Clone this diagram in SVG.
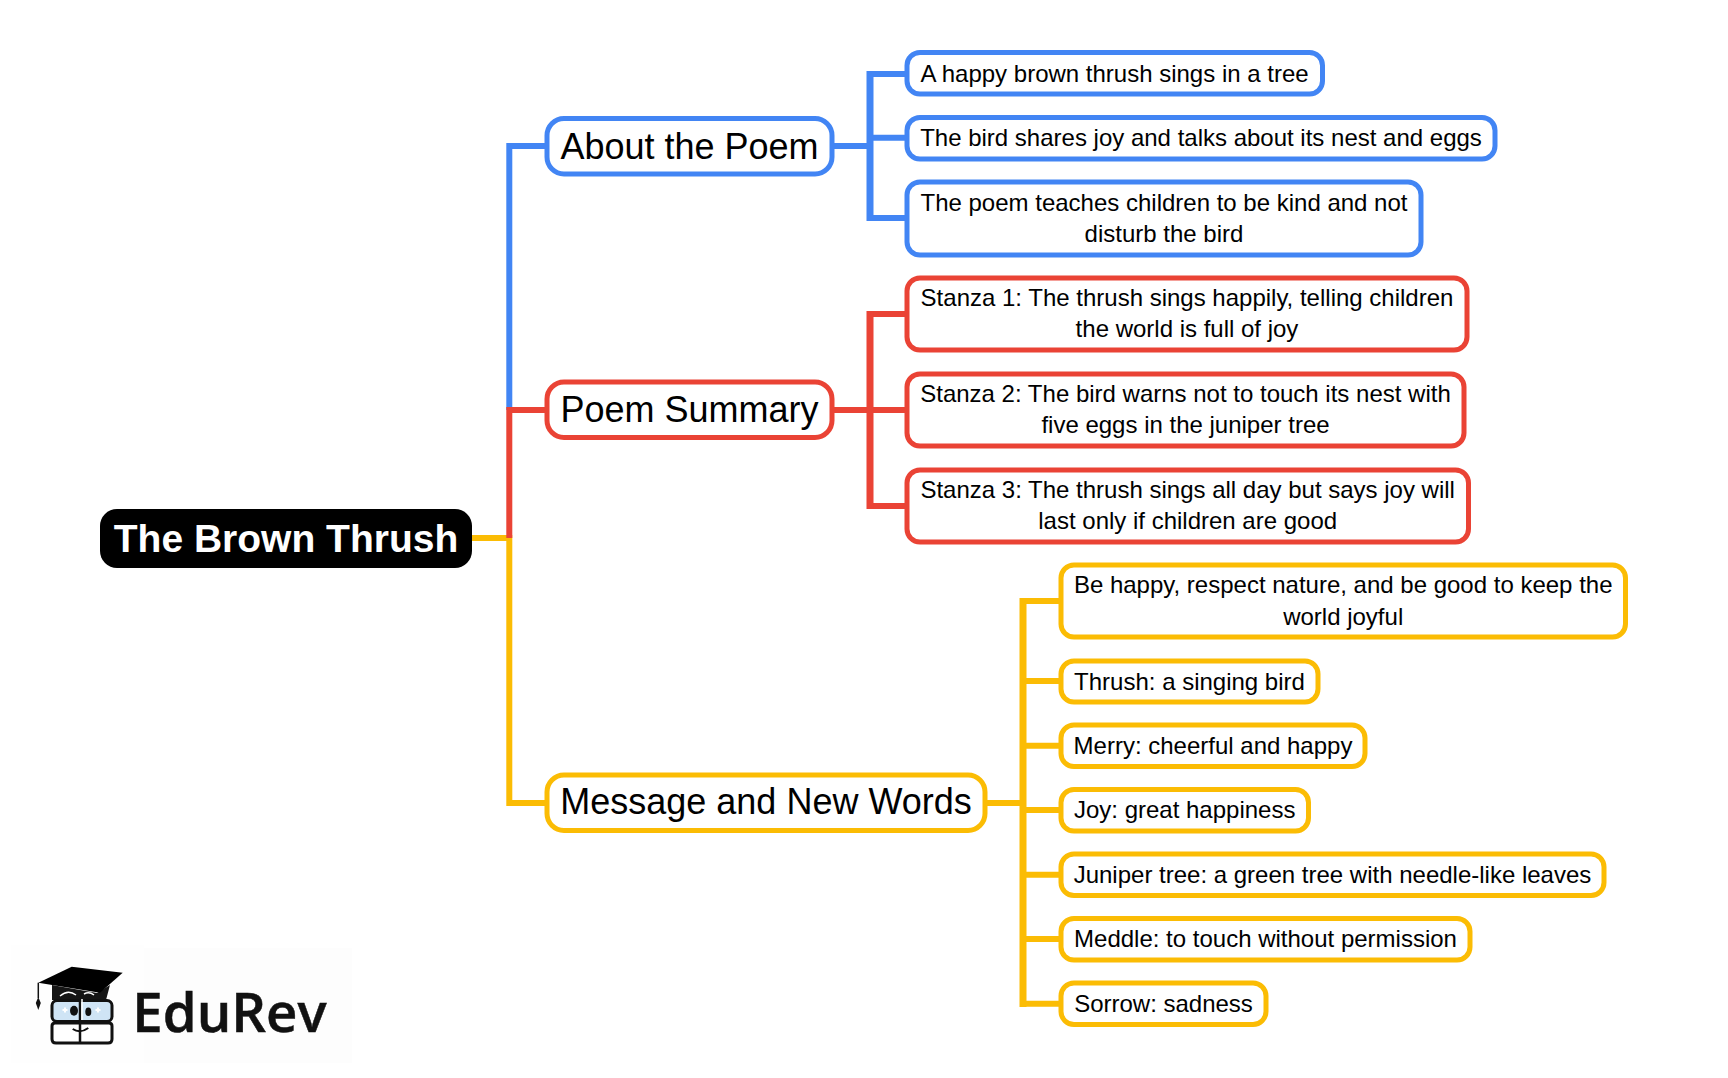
<svg xmlns="http://www.w3.org/2000/svg" width="1728" height="1078" viewBox="0 0 1728 1078">
<style>
text{font-family:"Liberation Sans",Arial,sans-serif;fill:#000;text-anchor:middle}
.c{font-size:24px}.m{font-size:36px}
.n{fill:#fff;stroke-width:5}
.b{stroke:#4285f4}.r{stroke:#ea4335}.y{stroke:#fbbc04}
#connectors path{fill:none;stroke-width:6}
#connectors path.v{stroke-width:7}
</style>
<rect width="1728" height="1078" fill="#fff"/>
<g id="logo-bg"><rect x="11" y="945" width="133" height="118" fill="#fefefe"/><rect x="144" y="948" width="208" height="115" fill="#fdfdfd"/></g>
<g id="root"><rect x="100" y="509" width="372" height="59" rx="17" fill="#000"/><text x="286" y="552" font-size="39" font-weight="700" style="fill:#fff">The Brown Thrush</text></g>
<g id="about"><rect class="n b" x="547" y="118.500" width="285" height="55.500" rx="17"/><text class="m" x="689.500" y="159">About the Poem</text></g>
<g id="summary"><rect class="n r" x="547" y="382" width="285" height="55.500" rx="17"/><text class="m" x="689.500" y="421.500">Poem Summary</text></g>
<g id="message"><rect class="n y" x="547" y="775" width="438" height="55.500" rx="17"/><text class="m" x="766" y="814">Message and New Words</text></g>
<g id="b1"><rect class="n b" x="907" y="52.500" width="415.500" height="41.500" rx="13"/><text class="c" x="1114.500" y="81.500">A happy brown thrush sings in a tree</text></g>
<g id="b2"><rect class="n b" x="907" y="117.500" width="588" height="41.500" rx="13"/><text class="c" x="1201" y="146">The bird shares joy and talks about its nest and eggs</text></g>
<g id="b3"><rect class="n b" x="907" y="182" width="514" height="73" rx="13"/><text class="c" x="1164" y="211">The poem teaches children to be kind and not</text><text class="c" x="1164" y="242">disturb the bird</text></g>
<g id="r1"><rect class="n r" x="907" y="278" width="560" height="72" rx="13"/><text class="c" x="1187" y="306">Stanza 1: The thrush sings happily, telling children</text><text class="c" x="1187" y="337">the world is full of joy</text></g>
<g id="r2"><rect class="n r" x="907" y="374" width="557" height="72" rx="13"/><text class="c" x="1185.500" y="402">Stanza 2: The bird warns not to touch its nest with</text><text class="c" x="1185.500" y="433">five eggs in the juniper tree</text></g>
<g id="r3"><rect class="n r" x="907" y="470" width="561.500" height="72" rx="13"/><text class="c" x="1187.700" y="498">Stanza 3: The thrush sings all day but says joy will</text><text class="c" x="1187.700" y="529">last only if children are good</text></g>
<g id="y1"><rect class="n y" x="1061" y="565" width="564.500" height="72" rx="13"/><text class="c" x="1343.200" y="593">Be happy, respect nature, and be good to keep the</text><text class="c" x="1343.200" y="624.500">world joyful</text></g>
<g id="y2"><rect class="n y" x="1061" y="661" width="257" height="41" rx="13"/><text class="c" x="1189.500" y="689.500">Thrush: a singing bird</text></g>
<g id="y3"><rect class="n y" x="1061" y="725" width="304" height="41.500" rx="13"/><text class="c" x="1213" y="754">Merry: cheerful and happy</text></g>
<g id="y4"><rect class="n y" x="1061" y="789.500" width="247.500" height="41.500" rx="13"/><text class="c" x="1184.700" y="818">Joy: great happiness</text></g>
<g id="y5"><rect class="n y" x="1061" y="854" width="543" height="41.500" rx="13"/><text class="c" x="1332.500" y="882.500">Juniper tree: a green tree with needle-like leaves</text></g>
<g id="y6"><rect class="n y" x="1061" y="918.500" width="409" height="41.500" rx="13"/><text class="c" x="1265.500" y="947">Meddle: to touch without permission</text></g>
<g id="y7"><rect class="n y" x="1061" y="983" width="205" height="41.500" rx="13"/><text class="c" x="1163.500" y="1011.500">Sorrow: sadness</text></g>
<g id="connectors">
<path class="b" d="M509.300 410V146H549"/>
<path class="b" d="M830 146H870M870 74H909M870 137.800H909M870 218H909"/>
<path class="b v" d="M870 71V221"/>
<path class="y" d="M472 538H509.300V803H549"/>
<path class="r" d="M509.300 538V410H549"/>
<path class="r" d="M830 410H870M870 314H909M870 410H909M870 506H909"/>
<path class="r v" d="M870 311V509"/>
<path class="y" d="M983 803H1023M1023 601H1063M1023 681H1063M1023 745.800H1063M1023 810H1063M1023 874.700H1063M1023 939H1063M1023 1003.800H1063"/>
<path class="y v" d="M1023 598V1007"/>
</g>
<g id="logo">
<path d="M52 985L97 993 110 985 106 1000H52Z" fill="#151515"/>
<path d="M60 996q8-7 16-1M84 994q5-3 10 1" fill="none" stroke="#fff" stroke-width="1.500"/>
<path d="M38.300 982.700L71.700 966.700 122.700 972.700 100 992.700Z" fill="#000"/>
<path d="M38.300 982.700V998" stroke="#111" stroke-width="1.500" fill="none"/>
<path d="M38.300 997l-2.500 6 2.500 7 2.500-7z" fill="#111"/>
<rect x="52" y="1000.500" width="60" height="21" rx="5" fill="#cfe4f5" stroke="#111" stroke-width="3"/>
<path d="M52 1026q0-3 3-3H109q3 0 3 3V1039q0 4-4 4H56q-4 0-4-4Z" fill="#fff" stroke="#111" stroke-width="3"/>
<path d="M80 999V1043" stroke="#111" stroke-width="2.500"/>
<path d="M82 999V1020" stroke="#fff" stroke-width="1.500"/>
<path d="M62.500 1010h5M65 1007.500v5M95.500 1010h5M98 1007.500v5" stroke="#fff" stroke-width="2"/>
<ellipse cx="74" cy="1010.700" rx="4" ry="5" fill="#111"/><ellipse cx="88.300" cy="1011.700" rx="3" ry="4.300" fill="#111"/>
<path d="M72.700 1029Q80 1034 88.300 1028M80 1031V1034" fill="none" stroke="#111" stroke-width="2"/>
<text x="229.500" y="1031.700" font-size="54.500" font-weight="600" stroke="#111" stroke-width="0.500" style="font-family:'Open Sans',sans-serif;fill:#111">EduRev</text>
</g>
</svg>
